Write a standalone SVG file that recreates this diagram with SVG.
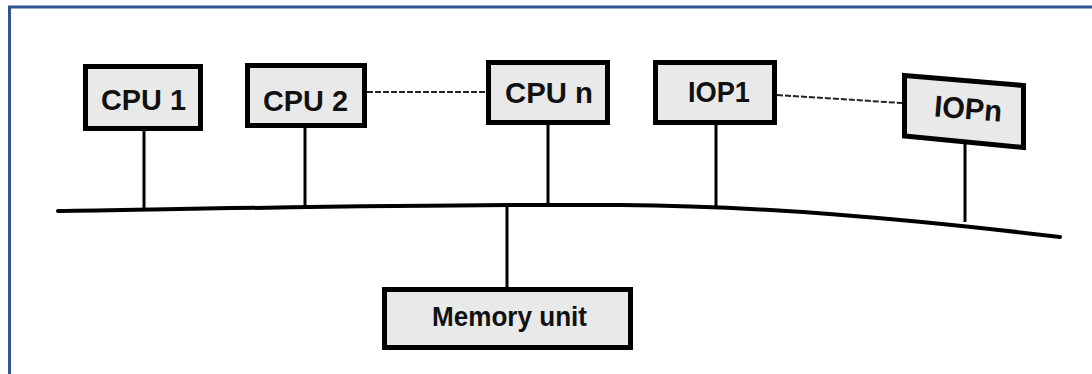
<svg xmlns="http://www.w3.org/2000/svg" width="1092" height="374" viewBox="0 0 1092 374">
  <style>
    .box { fill: #e9e9e9; stroke: #000; stroke-width: 5; }
    .lbl { font-family: "Liberation Sans", Arial, sans-serif; font-weight: bold; font-size: 30px; fill: #111; text-anchor: middle; }
    .stem { stroke: #000; stroke-width: 3; fill: none; }
    .bus { stroke: #000; stroke-width: 4; fill: none; stroke-linecap: round; }
    .dash { stroke: #222; stroke-width: 2; fill: none; stroke-dasharray: 6 2; }
  </style>
  <rect x="0" y="0" width="1092" height="374" fill="#fff"/>
  <path d="M9.5,400 V7 H1100" fill="none" stroke="#2f5597" stroke-width="3"/>

  <g id="connectors">
    <path class="bus" d="M58,211 C250,208 450,204 620,205 C760,206 900,218 1060,237"/>
    <line class="stem" x1="144" y1="129" x2="144" y2="210"/>
    <line class="stem" x1="305" y1="126" x2="305" y2="209"/>
    <line class="stem" x1="548" y1="123" x2="548" y2="205"/>
    <line class="stem" x1="716" y1="123" x2="716" y2="206"/>
    <line class="stem" x1="965" y1="141" x2="965" y2="222"/>
    <line class="stem" x1="507" y1="206" x2="507" y2="289"/>
    <line class="dash" x1="367" y1="92" x2="486" y2="92"/>
    <line class="dash" x1="777" y1="95" x2="902" y2="103"/>
  </g>

  <g id="cpu1">
    <rect class="box" x="85.5" y="66.5" width="115" height="62"/>
    <text class="lbl" x="143.5" y="110" textLength="85" lengthAdjust="spacingAndGlyphs">CPU 1</text>
  </g>
  <g id="cpu2">
    <rect class="box" x="247.5" y="65.5" width="117" height="60"/>
    <text class="lbl" x="305.5" y="111" textLength="85" lengthAdjust="spacingAndGlyphs">CPU 2</text>
  </g>
  <g id="cpun">
    <rect class="box" x="488.5" y="62.5" width="119" height="60"/>
    <text class="lbl" x="549" y="103" textLength="88" lengthAdjust="spacingAndGlyphs">CPU n</text>
  </g>
  <g id="iop1">
    <rect class="box" x="655.5" y="62.5" width="119" height="60"/>
    <text class="lbl" x="719" y="102" textLength="62" lengthAdjust="spacingAndGlyphs">IOP1</text>
  </g>
  <g id="iopn">
    <polygon class="box" points="904.5,75.5 1023.5,85.5 1023.5,147.5 904.5,136"/>
    <text class="lbl" x="968" y="119" textLength="68" lengthAdjust="spacingAndGlyphs" transform="rotate(4.6 968 110)">IOPn</text>
  </g>
  <g id="memory">
    <rect class="box" x="384.5" y="289.5" width="246" height="58"/>
    <text class="lbl" x="509.5" y="326" style="font-size:28px" textLength="155" lengthAdjust="spacingAndGlyphs">Memory unit</text>
  </g>
</svg>
